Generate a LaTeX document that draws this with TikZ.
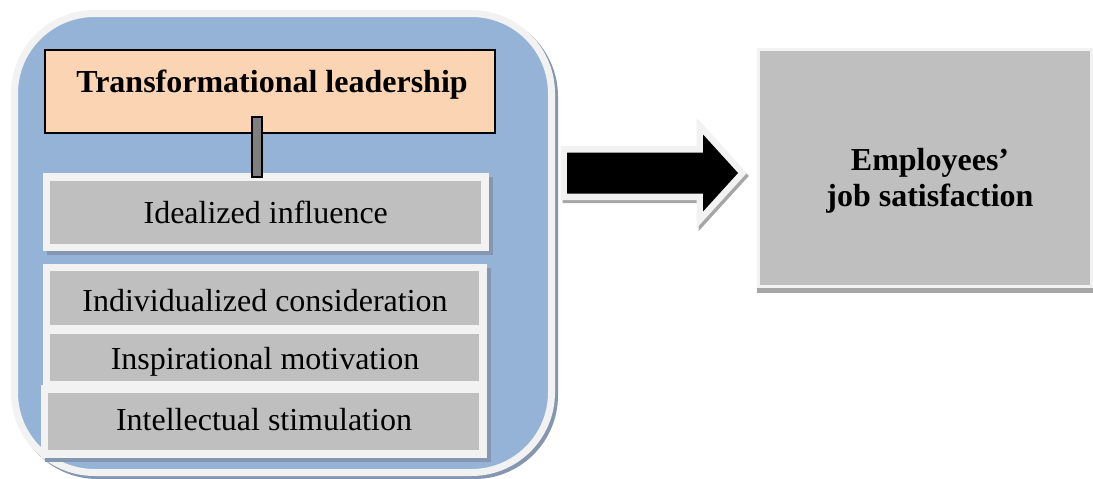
\documentclass[tikz,border=0pt]{standalone}
\usepackage{fontspec}
\setmainfont{Liberation Serif}
\usepackage{tikz}
\usetikzlibrary{positioning, calc, shadows}

\definecolor{paneblue}{HTML}{95B3D7}
\definecolor{rim}{HTML}{F2F2F2}
\definecolor{boxgray}{HTML}{BFBFBF}
\definecolor{peach}{HTML}{FBD4B4}
\definecolor{bargray}{HTML}{7F7F7F}
\definecolor{shadeblue}{HTML}{8496B0}
\definecolor{shadegray}{HTML}{A6A6A6}

\begin{document}
\begin{tikzpicture}[
  x=1pt, y=-1pt,
  every node/.style={font=\fontsize{32}{36}\selectfont, align=center, inner sep=0pt, outer sep=0pt},
  outerpanel/.style={draw=rim, fill=paneblue, line width=7pt, rounded corners=80pt,
    drop shadow={shadow xshift=3pt, shadow yshift=-3pt, opacity=1, fill=shadeblue, draw=shadeblue, line width=7pt}},
  dimbox/.style={draw=rim, fill=boxgray, line width=7.5pt,
    drop shadow={shadow xshift=4pt, shadow yshift=-4pt, opacity=1, fill=shadeblue, draw=shadeblue, line width=7.5pt}},
  headbox/.style={draw=black, fill=peach, line width=1.5pt},
  resultbox/.style={draw=rim, fill=boxgray, line width=3pt,
    drop shadow={shadow xshift=0pt, shadow yshift=-5pt, opacity=1, fill=shadegray, draw=shadegray, line width=3pt}},
  connbar/.style={draw=black, fill=bargray, line width=1.5pt},
  bigarrow/.style={fill=black, line join=miter,
    drop shadow={shadow xshift=2pt, shadow yshift=-3pt, opacity=1, draw=shadegray, line width=13pt},
    preaction={draw=rim, line width=13pt}},
]
  \useasboundingbox (0,0) rectangle (1093,479);

  % left panel with the leadership dimensions
  \node[outerpanel, minimum width=537pt, minimum height=459pt] (panel) at (283,243) {};
  \node[headbox, minimum width=450pt, minimum height=83pt] (tl) at (270,91.5) {};
  \node[font=\bfseries\fontsize{32}{36}\selectfont] (tlText) at (272,85) {Transformational leadership};

  \node[dimbox, minimum width=438.5pt, minimum height=70.5pt] (ii) at (265.75,212.25) {Idealized influence};
  \node[dimbox, minimum width=436.5pt, minimum height=61pt] (ic) at (264.75,298) {};
  \node[dimbox, minimum width=436.5pt, minimum height=55pt] (im) at (264.75,357.5) {};
  \node[dimbox, minimum width=438.5pt, minimum height=65pt] (is) at (263.75,421.5) {};
  \node (icText) at (265,301) {Individualized consideration};
  \node (imText) at (265,362) {Inspirational motivation};
  \node (isText) at (264,420) {Intellectual stimulation};

  % bar joining the heading to the first dimension
  \draw[connbar] ($(tl.south)+(-18,-16)$) rectangle ($(ii.north)+(-3.75,0)$);

  % outcome box
  \node[resultbox, minimum width=333pt, minimum height=237pt] (ej) at (925,168) {};
  \node[font=\bfseries\fontsize{32}{36}\selectfont] (ejText) at (930,181) {Employees'\\job satisfaction};

  % block arrow from the panel to the outcome
  \coordinate (tip) at ($(ej.west)+(-20.5,5)$);
  \coordinate (tail) at ($(panel.east)+(15.5,-70)$);
  \path[bigarrow] ($(tail)+(0,-20.5)$) -- ++(136,0) -- ++(0,-18) -- (tip)
    -- ($(tail)+(136,38.5)$) -- ++(0,-18) -- ($(tail)+(0,20.5)$) -- cycle;
\end{tikzpicture}
\end{document}
